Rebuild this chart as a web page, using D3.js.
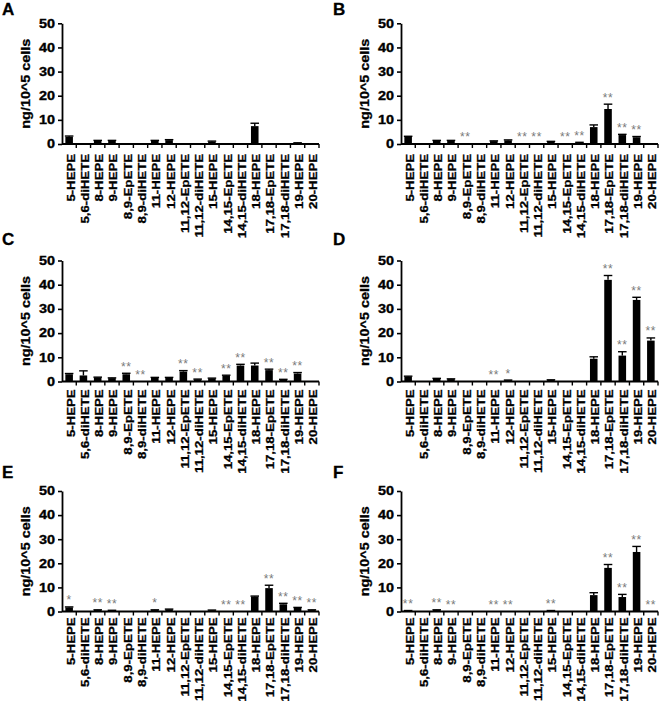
<!DOCTYPE html>
<html><head><meta charset="utf-8">
<script src="https://cdn.jsdelivr.net/npm/d3@7"></script>
<style>
html,body{margin:0;padding:0;background:#fff;}
svg{display:block;font-family:"Liberation Sans",Arial,Helvetica,sans-serif;}
</style></head>
<body>
<svg id="chart" width="660" height="706"></svg>
<script>
const categories = ["5-HEPE","5,6-diHETE","8-HEPE","9-HEPE","8,9-EpETE","8,9-diHETE","11-HEPE","12-HEPE","11,12-EpETE","11,12-diHETE","15-HEPE","14,15-EpETE","14,15-diHETE","18-HEPE","17,18-EpETE","17,18-diHETE","19-HEPE","20-HEPE"];
const yTicks = [0,10,20,30,40,50];
const panelLetters = ["A","B","C","D","E","F"];
const yLabel = "ng/10^5 cells";

const valuesA = [3.0,0,1.3,1.3,0,0,1.3,1.6,0,0,1.0,0,0,7.4,0,0,0.4,0];
const errorsA = [0.3,0,0.2,0.2,0,0,0.2,0.2,0,0,0.2,0,0,1.2,0,0,0.1,0];
const sigA    = ["","","","","","","","","","","","","","","","","",""];

const valuesB = [3.0,0,1.3,1.3,0.1,0,1.2,1.5,0.2,0.1,1.0,0.1,0.6,7.0,14.5,3.7,2.8,0];
const errorsB = [0.2,0,0.2,0.2,0,0,0.1,0.2,0,0,0.1,0,0.1,0.9,2.0,0.3,0.3,0];
const sigB    = ["","","","","**","","","","**","**","","**","**","","**","**","**",""];

const valuesC = [3.0,2.5,1.7,1.4,3.0,0.1,1.6,1.6,4.1,0.9,1.3,2.4,6.6,6.6,4.7,0.8,3.3,0];
const errorsC = [0.3,1.9,0.1,0.1,0.4,0,0.1,0.1,0.4,0.1,0.1,0.2,0.5,1.0,0.4,0.1,0.4,0];
const sigC    = ["","","","","**","**","","","**","**","","**","**","","**","**","**",""];

const valuesD = [2.0,0,1.2,1.0,0,0,0.1,0.5,0,0,0.6,0,0,9.4,42.0,10.7,33.7,16.9];
const errorsD = [0.2,0,0.1,0.1,0,0,0,0.1,0,0,0.1,0,0,0.8,1.8,1.6,1.1,1.1];
const sigD    = ["","","","","","","**","*","","","","","","","**","**","**","**"];

const valuesE = [1.7,0,0.6,0.4,0,0,0.6,0.9,0,0,0.5,0.1,0.1,6.2,9.7,3.0,1.5,0.6];
const errorsE = [0.2,0,0.1,0.1,0,0,0.1,0.1,0,0,0.1,0,0,0.2,1.2,0.4,0.2,0.1];
const sigE    = ["*","","**","**","","","*","","","","","**","**","","**","**","**","**"];

const valuesF = [0.3,0,0.6,0.1,0,0,0.2,0.1,0,0,0.3,0,0,6.8,18.1,6.0,24.7,0];
const errorsF = [0.1,0,0.1,0,0,0,0,0,0,0,0.1,0,0,1.0,1.4,1.1,2.3,0];
const sigF    = ["**","","**","**","","","**","**","","","**","","","","**","**","**","**"];

const panelData = [
  [valuesA, errorsA, sigA], [valuesB, errorsB, sigB],
  [valuesC, errorsC, sigC], [valuesD, errorsD, sigD],
  [valuesE, errorsE, sigE], [valuesF, errorsF, sigF]
];

// layout
const colX = [[62, 319], [401, 658]];
const rowY = [[144, 23.3], [381.5, 260.5], [611.5, 491]];
const letterY = [15, 245, 478];
const labelGap = [10, 8, 6];
const SX = 1.2; // horizontal text stretch

const svg = d3.select("#chart");

function boldText(sel) {
  return sel.attr("font-weight", "bold").attr("fill", "#000")
    .attr("stroke", "#000").attr("stroke-width", 0.35);
}

panelData.forEach((pd, i) => {
  const [vals, errs, sig] = pd;
  const col = i % 2, row = Math.floor(i / 2);
  const [x0, x1] = colX[col];
  const [y0, y1] = rowY[row];

  const x = d3.scaleBand().domain(categories).range([x0, x1]).paddingInner(0.47).paddingOuter(0.235);
  const y = d3.scaleLinear().domain([0, 50]).range([y0, y1]);
  const g = svg.append("g");

  // panel letter
  g.append("text").attr("x", col === 0 ? 2 : 333).attr("y", letterY[row])
    .attr("font-size", 17).call(boldText).attr("stroke-width", 0.3).text(panelLetters[i]);

  // bars
  const rows = categories.map((c, k) => ({c, v: vals[k], e: errs[k], s: sig[k]}));
  g.selectAll("rect.bar").data(rows).join("rect")
    .attr("x", d => x(d.c)).attr("width", x.bandwidth())
    .attr("y", d => y(d.v)).attr("height", d => y(0) - y(d.v))
    .attr("fill", "#000");

  // error bars (upper only)
  const eb = rows.filter(d => d.e > 0);
  g.selectAll("line.err").data(eb).join("line")
    .attr("x1", d => x(d.c) + x.bandwidth() / 2).attr("x2", d => x(d.c) + x.bandwidth() / 2)
    .attr("y1", d => y(d.v)).attr("y2", d => y(d.v + d.e))
    .attr("stroke", "#000").attr("stroke-width", 1.4);
  g.selectAll("line.cap").data(eb).join("line")
    .attr("x1", d => x(d.c) - 0.5).attr("x2", d => x(d.c) + x.bandwidth() + 0.5)
    .attr("y1", d => y(d.v + d.e)).attr("y2", d => y(d.v + d.e))
    .attr("stroke", "#000").attr("stroke-width", 1.4);

  // significance
  g.selectAll("text.sig").data(rows.filter(d => d.s)).join("text")
    .attr("transform", d => `translate(${x(d.c) + x.bandwidth() / 2},${y(d.v + d.e) - 2.5})`)
    .attr("text-anchor", "middle").attr("font-size", 12).attr("letter-spacing", 0.6)
    .attr("fill", "#7a7a7a").text(d => d.s);

  // y axis
  const yAxis = d3.axisLeft(y).tickValues(yTicks).tickSize(4).tickSizeOuter(0);
  const ya = g.append("g").attr("transform", `translate(${x0},0)`).call(yAxis);
  ya.select(".domain").attr("stroke", "#000").attr("stroke-width", 1.8);
  ya.selectAll(".tick line").attr("stroke", "#000").attr("stroke-width", 1.6);
  ya.selectAll(".tick text").remove();
  g.selectAll("text.ytick").data(yTicks).join("text")
    .attr("transform", d => `translate(${x0 - 7},${y(d)}) scale(${SX},1)`)
    .attr("text-anchor", "end").attr("dy", "0.36em")
    .attr("font-size", 12).call(boldText).text(d => d);

  // x axis
  const xa = g.append("g").attr("transform", `translate(0,${y0})`);
  xa.append("line").attr("x1", x0).attr("x2", x1).attr("stroke", "#000").attr("stroke-width", 1.8);
  const step = x.step();
  const bounds = d3.range(categories.length + 1).map(k => x0 + k * step);
  xa.selectAll("line.tk").data(bounds.slice(1)).join("line")
    .attr("x1", d => d).attr("x2", d => d).attr("y1", 0).attr("y2", 4)
    .attr("stroke", "#000").attr("stroke-width", 1.4);
  xa.selectAll("text.xl").data(categories).join("text")
    .attr("transform", d => `translate(${x(d) + x.bandwidth() / 2 + 1.5},${labelGap[row]}) rotate(-90) scale(${SX},1)`)
    .attr("text-anchor", "end").attr("dy", "0.36em")
    .attr("font-size", 11).call(boldText).attr("stroke-width", 0.3).text(d => d);

  // y label
  g.append("text")
    .attr("transform", `translate(${x0 - 32},${(y0 + y1) / 2}) rotate(-90) scale(${SX},1)`)
    .attr("text-anchor", "middle").attr("font-size", 12).call(boldText).attr("stroke-width", 0.3).text(yLabel);
});
</script>
</body></html>
